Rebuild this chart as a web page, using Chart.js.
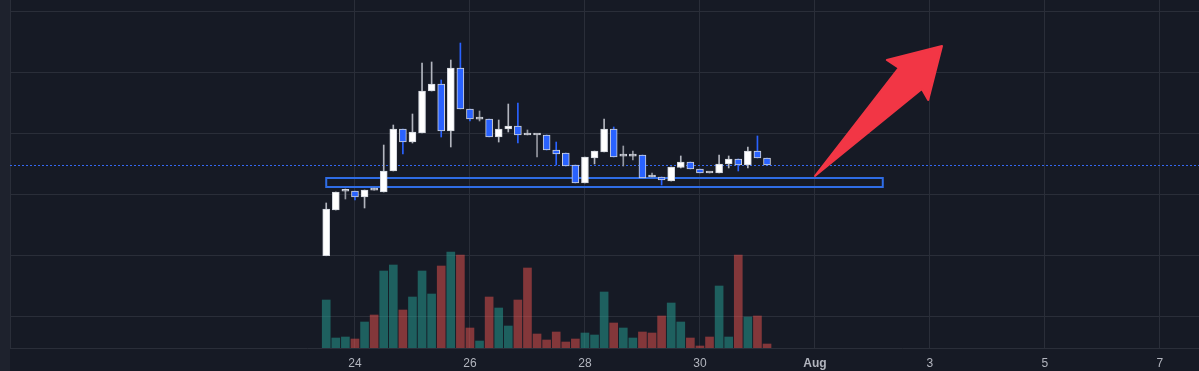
<!DOCTYPE html>
<html>
<head>
<meta charset="utf-8">
<script src="https://cdn.jsdelivr.net/npm/chart.js"></script>
<style>
  html, body { margin: 0; padding: 0; background: #161a25; }
  #wrap { width: 1199px; height: 371px; position: relative; }
</style>
</head>
<body>
<div id="wrap"><canvas id="priceChart"></canvas></div>
<script>
// 4h candles, Jul 23 12:00 -> Jul 31 04:00
const times = [
  '07-23 12:00', '07-23 16:00', '07-23 20:00',
  '07-24 00:00', '07-24 04:00', '07-24 08:00', '07-24 12:00', '07-24 16:00', '07-24 20:00',
  '07-25 00:00', '07-25 04:00', '07-25 08:00', '07-25 12:00', '07-25 16:00', '07-25 20:00',
  '07-26 00:00', '07-26 04:00', '07-26 08:00', '07-26 12:00', '07-26 16:00', '07-26 20:00',
  '07-27 00:00', '07-27 04:00', '07-27 08:00', '07-27 12:00', '07-27 16:00', '07-27 20:00',
  '07-28 00:00', '07-28 04:00', '07-28 08:00', '07-28 12:00', '07-28 16:00', '07-28 20:00',
  '07-29 00:00', '07-29 04:00', '07-29 08:00', '07-29 12:00', '07-29 16:00', '07-29 20:00',
  '07-30 00:00', '07-30 04:00', '07-30 08:00', '07-30 12:00', '07-30 16:00', '07-30 20:00',
  '07-31 00:00', '07-31 04:00'
];
const opens = [20.0, 27.48, 30.55, 30.59, 29.61, 30.78, 30.42, 33.86, 40.72, 38.59, 40.07, 46.93, 48.07, 40.39, 50.69, 43.99,
  42.33, 42.35, 39.41, 40.72, 41.21, 39.78, 39.76, 39.74, 37.29, 36.80, 34.84, 31.90, 35.98, 36.96, 40.72, 36.29,
  36.29, 36.47, 32.90, 32.88, 32.22, 34.43, 35.33, 34.18, 33.55, 33.53, 35.00, 35.82, 34.84, 37.12, 35.98];
const highs = [28.63, 30.42, 30.92, 30.59, 30.75, 31.08, 38.10, 41.37, 40.72, 43.17, 51.50, 51.67, 48.73, 51.99, 54.77, 43.99,
  43.66, 42.35, 42.19, 44.80, 44.97, 40.56, 39.76, 39.74, 38.59, 36.80, 34.84, 36.14, 37.12, 42.35, 41.05, 37.94,
  37.12, 36.47, 33.53, 32.88, 34.51, 36.31, 35.33, 34.18, 33.55, 36.47, 36.31, 35.82, 37.78, 39.58, 35.98];
const lows = [20.0, 27.48, 29.28, 29.12, 27.81, 30.72, 30.42, 33.86, 36.63, 38.43, 40.07, 46.93, 39.41, 37.78, 43.99, 42.03,
  42.03, 39.41, 38.59, 40.23, 38.43, 39.74, 36.14, 37.29, 34.84, 34.67, 31.90, 31.90, 35.00, 36.96, 36.14, 34.67,
  35.65, 32.71, 32.88, 31.57, 32.22, 34.35, 34.18, 33.53, 33.53, 33.53, 34.35, 33.86, 34.35, 35.98, 34.84];
const closes = [27.65, 30.42, 30.60, 29.61, 30.75, 30.72, 33.86, 40.72, 38.59, 40.23, 46.93, 48.07, 40.39, 50.69, 43.99, 42.35,
  42.35, 39.41, 40.72, 41.21, 39.74, 39.74, 39.74, 37.29, 36.63, 34.67, 31.90, 36.14, 37.12, 40.72, 36.14, 36.31,
  36.31, 32.71, 32.88, 32.39, 34.51, 35.33, 34.18, 33.53, 33.53, 35.00, 35.82, 34.84, 37.12, 35.98, 34.84];
const volumes = [48, 10, 11, 9, 26, 33, 77, 83, 38, 51, 77, 54, 82, 96, 93, 20, 7, 51, 40, 22, 48, 80, 14, 8, 16, 6, 9, 15,
  13, 56, 25, 20, 10, 16, 15, 32, 45, 26, 10, 2, 11, 62, 11, 93, 31, 32, 4];

// x tick labels (day numbers counted from July 1; 32 = Aug 1)
const tickDays = [24, 26, 28, 30, 32, 34, 36, 38];
const tickLabels = ['24', '26', '28', '30', 'Aug', '3', '5', '7'];

// drawings on the chart (in day / price units)
const zoneBox = { from: 23.5, to: 33.18, low: 31.24, high: 32.71 };
const arrowPoints = [[32.0, 33.04], [33.46, 50.69], [33.25, 51.99], [34.21, 54.28], [33.97, 45.46], [33.86, 47.25]];

function toDay(s) {
  const month = parseInt(s.slice(0, 2));
  const day = parseInt(s.slice(3, 5));
  const hour = parseInt(s.slice(6, 8));
  return (month === 8 ? 31 : 0) + day + hour / 24;
}
const xs = times.map(toDay);

const isUp = i => closes[i] >= opens[i];
const isDoji = i => Math.abs(closes[i] - opens[i]) < 0.1;

const bodyColors = opens.map((o, i) => isDoji(i) ? '#b2b5be' : (isUp(i) ? '#ffffff' : '#2962ff'));
const wickColors = opens.map((o, i) => isDoji(i) ? '#9598a1' : (isUp(i) ? '#b2b5be' : '#2962ff'));
const volColors = opens.map((o, i) => isUp(i) ? 'rgba(38,166,154,0.5)' : 'rgba(239,83,80,0.5)');

const drawingsPlugin = {
  id: 'drawings',
  beforeDraw(chart) {
    const c = chart.ctx;
    c.save();
    c.fillStyle = '#161a25';
    c.fillRect(0, 0, chart.width, chart.height);
    c.fillStyle = '#1e222d';
    c.fillRect(0, 0, chart.chartArea.left, chart.height);
    c.restore();
  },
  beforeDatasetsDraw(chart) {
    const c = chart.ctx;
    const x = chart.scales.x, y = chart.scales.y;
    const area = chart.chartArea;
    c.save();
    // last price line
    const ly = Math.round(y.getPixelForValue(closes[closes.length - 1])) + 0.5;
    c.strokeStyle = '#3468f2';
    c.lineWidth = 1;
    c.setLineDash([2, 2]);
    c.beginPath();
    c.moveTo(area.left, ly);
    c.lineTo(area.right, ly);
    c.stroke();
    c.setLineDash([]);
    // support zone rectangle
    const x0 = x.getPixelForValue(zoneBox.from), x1 = x.getPixelForValue(zoneBox.to);
    const y0 = y.getPixelForValue(zoneBox.high), y1 = y.getPixelForValue(zoneBox.low);
    c.strokeStyle = '#2f6de6';
    c.lineWidth = 2;
    c.strokeRect(x0, y0, x1 - x0, y1 - y0);
    c.restore();
  },
  afterDatasetsDraw(chart) {
    const c = chart.ctx;
    const x = chart.scales.x, y = chart.scales.y;
    c.save();
    c.fillStyle = '#f23645';
    c.strokeStyle = '#f23645';
    c.lineJoin = 'round';
    c.lineWidth = 2;
    c.beginPath();
    arrowPoints.forEach((p, i) => {
      const px = x.getPixelForValue(p[0]), py = y.getPixelForValue(p[1]);
      if (i === 0) c.moveTo(px, py); else c.lineTo(px, py);
    });
    c.closePath();
    c.fill();
    c.stroke();
    c.restore();
  }
};

const ctx = document.getElementById('priceChart').getContext('2d');
const chart = new Chart(ctx, {
  type: 'bar',
  data: {
    datasets: [
      {
        label: 'wicks',
        data: xs.map((t, i) => ({ x: t, y: [lows[i], highs[i]] })),
        backgroundColor: wickColors,
        barThickness: 1,
        grouped: false,
        order: 2,
        yAxisID: 'y'
      },
      {
        label: 'bodies',
        data: xs.map((t, i) => ({ x: t, y: [opens[i], closes[i]] })),
        backgroundColor: bodyColors,
        borderColor: '#d1d4dc',
        borderWidth: 1,
        borderSkipped: false,
        minBarLength: 2,
        barThickness: 7,
        grouped: false,
        order: 1,
        yAxisID: 'y'
      },
      {
        label: 'volume',
        data: xs.map((t, i) => ({ x: t, y: volumes[i] })),
        backgroundColor: volColors,
        barThickness: 8,
        grouped: false,
        order: 3,
        yAxisID: 'y1'
      }
    ]
  },
  options: {
    responsive: true,
    maintainAspectRatio: false,
    animation: false,
    layout: { padding: { left: 10, right: 0, top: 0, bottom: 0 } },
    plugins: {
      legend: { display: false },
      tooltip: { enabled: false }
    },
    scales: {
      x: {
        type: 'linear',
        min: 18,
        max: 38.68,
        offset: false,
        afterBuildTicks: scale => { scale.ticks = tickDays.map(v => ({ value: v })); },
        afterFit: scale => { scale.height = 23; },
        grid: { color: '#2a2e39', drawTicks: false, offset: false },
        border: { display: true, color: '#2a2e39' },
        ticks: {
          color: '#b2b5be',
          padding: 8,
          maxRotation: 0,
          autoSkip: false,
          font: ctx => ({ family: 'Liberation Sans', size: 12, weight: ctx.tick && ctx.tick.value === 32 ? 'bold' : 'normal' }),
          callback: v => tickLabels[tickDays.indexOf(v)]
        }
      },
      y: {
        min: 4.93,
        max: 61.8,
        afterBuildTicks: scale => { scale.ticks = [10, 20, 30, 40, 50, 60].map(v => ({ value: v })); },
        grid: { color: '#2a2e39', drawTicks: false },
        border: { display: true, color: '#2a2e39' },
        ticks: { display: false }
      },
      y1: {
        display: false,
        min: 0,
        max: 348
      }
    }
  },
  plugins: [drawingsPlugin]
});
</script>
</body>
</html>
